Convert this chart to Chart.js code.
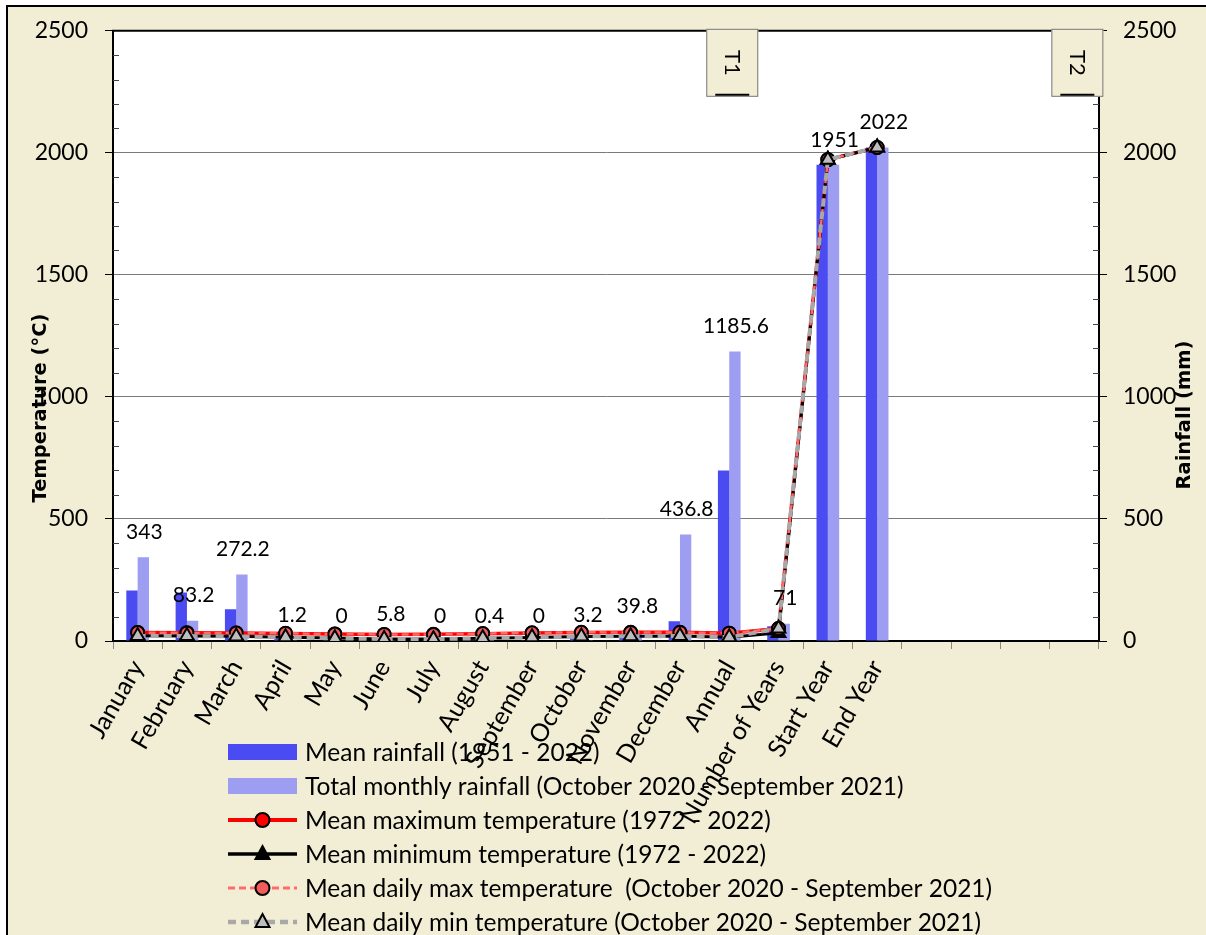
<!DOCTYPE html>
<html>
<head>
<meta charset="utf-8">
<script src="https://cdn.jsdelivr.net/npm/chart.js@4.4.1/dist/chart.umd.min.js"></script>
<style>
  html, body { margin: 0; padding: 0; background: #fff; }
  canvas { display: block; }
</style>
</head>
<body>
<canvas id="chart" width="1206" height="935"></canvas>
<script>
// categories along the x axis (last four slots are empty in the original sheet)
const categories = ["January", "February", "March", "April", "May", "June", "July", "August",
  "September", "October", "November", "December", "Annual", "Number of Years", "Start Year", "End Year",
  "", "", "", ""]

// rainfall bars
const meanRainfall = [207, 199, 130, 10, 3, 1, 0.5, 1, 3, 10, 30, 81, 699, 60, 1951, 2022, null, null, null, null]
const totalRainfall = [343, 83.2, 272.2, 1.2, 0, 5.8, 0, 0.4, 0, 3.2, 39.8, 436.8, 1185.6, 71, 1951, 2022, null, null, null, null]

// temperature lines
const meanMaxTemp = [35.2, 34.1, 33.0, 31.2, 29.0, 27.1, 27.4, 29.8, 32.6, 34.8, 35.6, 35.5, 32.1, 51, 1972, 2022, null, null, null, null]
const meanMinTemp = [21.0, 20.6, 19.1, 15.8, 11.9, 8.7, 8.3, 10.9, 14.8, 18.2, 19.9, 20.8, 15.8, 33, 1972, 2022, null, null, null, null]
const dailyMaxTemp = [34.6, 33.2, 32.5, 31.8, 28.4, 26.6, 26.2, 30.5, 33.4, 35.6, 34.9, 35.1, 31.9, 51, 1972, 2022, null, null, null, null]
const dailyMinTemp = [20.2, 20.1, 18.6, 14.9, 10.8, 8.1, 7.4, 11.6, 15.2, 18.9, 19.4, 20.3, 15.5, 51, 1972, 2022, null, null, null, null]

const legendLabels = [
  "Mean rainfall (1951 - 2022)",
  "Total monthly rainfall (October 2020 - September 2021)",
  "Mean maximum temperature (1972 - 2022)",
  "Mean minimum temperature (1972 - 2022)",
  "Mean daily max temperature  (October 2020 - September 2021)",
  "Mean daily min temperature (October 2020 - September 2021)"
]

const BEIGE = "#f2eed5"
const FONT = "Lato"

// background, outer frame and white plot area
const backgroundPlugin = {
  id: "background",
  beforeDraw(chart) {
    const { ctx, chartArea: a, width, height } = chart
    ctx.save()
    ctx.fillStyle = "#fff"
    ctx.fillRect(0, 0, width, height)
    ctx.fillStyle = BEIGE
    ctx.fillRect(8, 7, width, height)
    ctx.strokeStyle = "#000"
    ctx.lineWidth = 2
    ctx.strokeRect(7, 6, width + 20, height + 20)
    ctx.fillStyle = "#fff"
    ctx.fillRect(a.left, a.top, a.right - a.left, a.bottom - a.top)
    ctx.restore()
  }
}

// minor ticks inside the plot, top border, axis titles, T1/T2 boxes, data labels, legend
const decorPlugin = {
  id: "decor",
  afterDraw(chart) {
    const { ctx, chartArea: a } = chart
    const yScale = chart.scales.y
    const xScale = chart.scales.x
    ctx.save()

    // minor ticks every 100
    ctx.strokeStyle = "#444"
    ctx.lineWidth = 1
    for (let v = 100; v < 2500; v += 100) {
      if (v % 500 === 0) continue
      const y = Math.round(yScale.getPixelForValue(v)) + 0.5
      ctx.beginPath()
      ctx.moveTo(a.left, y); ctx.lineTo(a.left + 6, y)
      ctx.moveTo(a.right - 6, y); ctx.lineTo(a.right, y)
      ctx.stroke()
    }

    // top border of plot area
    ctx.strokeStyle = "#000"
    ctx.lineWidth = 2
    ctx.beginPath()
    ctx.moveTo(a.left - 1, a.top)
    ctx.lineTo(a.right + 1, a.top)
    ctx.stroke()

    // axis titles
    ctx.fillStyle = "#000"
    ctx.font = "bold 19.5px 'DejaVu Sans'"
    ctx.textAlign = "center"
    ctx.textBaseline = "middle"
    ctx.save()
    ctx.translate(41, 408)
    ctx.rotate(-Math.PI / 2)
    ctx.fillText("Temperature (°C)", 0, 0)
    ctx.restore()
    ctx.save()
    ctx.translate(1185, 415)
    ctx.rotate(-Math.PI / 2)
    ctx.fillText("Rainfall (mm)", 0, 0)
    ctx.restore()

    // T1 / T2 text boxes
    const boxes = [["T1", 12], ["T2", 19]]
    boxes.forEach(([txt, idx]) => {
      const cx = xScale.getPixelForValue(idx) + 3
      const top = a.top - 2
      ctx.fillStyle = BEIGE
      ctx.fillRect(cx - 26, top, 52, 68)
      ctx.strokeStyle = "#777"
      ctx.lineWidth = 1
      ctx.strokeRect(cx - 25.5, top + 0.5, 51, 67)
      ctx.strokeStyle = "#000"
      ctx.lineWidth = 2
      ctx.beginPath()
      ctx.moveTo(cx - 17, top + 66)
      ctx.lineTo(cx + 17, top + 66)
      ctx.stroke()
      ctx.save()
      ctx.translate(cx, top + 34)
      ctx.rotate(Math.PI / 2)
      ctx.fillStyle = "#000"
      ctx.font = `22px ${FONT}`
      ctx.textAlign = "center"
      ctx.textBaseline = "middle"
      ctx.fillText(txt, 0, 0)
      ctx.restore()
    })

    // data labels over total monthly rainfall bars
    const meta = chart.getDatasetMeta(1)
    ctx.fillStyle = "#000"
    ctx.font = `21px ${FONT}`
    ctx.textAlign = "center"
    ctx.textBaseline = "middle"
    meta.data.forEach((bar, i) => {
      const v = totalRainfall[i]
      if (v === null) return
      ctx.fillText(String(v), bar.x + 1, bar.y - 25)
    })

    // legend
    const lx = 228, ly = 752, row = 34, sw = 69
    chart.data.datasets.forEach((ds, i) => {
      const y = ly + i * row
      if (ds.type === "bar") {
        ctx.fillStyle = ds.backgroundColor
        ctx.fillRect(lx, y - 8, sw, 16)
      } else {
        ctx.strokeStyle = ds.borderColor
        ctx.lineWidth = ds.borderWidth + 0.5
        ctx.setLineDash(ds.borderDash || [])
        ctx.beginPath()
        ctx.moveTo(lx, y)
        ctx.lineTo(lx + sw, y)
        ctx.stroke()
        ctx.setLineDash([])
        ctx.fillStyle = ds.pointBackgroundColor
        ctx.strokeStyle = ds.pointBorderColor
        ctx.lineWidth = 2
        ctx.beginPath()
        const mx = lx + sw / 2
        if (ds.pointStyle === "circle") {
          ctx.arc(mx, y, 7, 0, Math.PI * 2)
        } else {
          ctx.moveTo(mx, y - 8)
          ctx.lineTo(mx + 7, y + 5)
          ctx.lineTo(mx - 7, y + 5)
          ctx.closePath()
        }
        ctx.fill()
        ctx.stroke()
      }
      ctx.fillStyle = "#000"
      ctx.font = `24.5px ${FONT}`
      ctx.textAlign = "left"
      ctx.textBaseline = "middle"
      ctx.fillText(legendLabels[i], 305, y + 1)
    })

    ctx.restore()
  }
}

const lineBase = { type: "line", yAxisID: "y", fill: false, tension: 0, spanGaps: false, pointBorderColor: "#000", pointBorderWidth: 2 }
const plainTick = v => String(v)

const ctx = document.getElementById("chart").getContext("2d")
new Chart(ctx, {
  type: "bar",
  data: {
    labels: categories,
    datasets: [
      { type: "bar", label: legendLabels[0], data: meanRainfall, backgroundColor: "#4b4bf2", yAxisID: "y", order: 5 },
      { type: "bar", label: legendLabels[1], data: totalRainfall, backgroundColor: "#9d9df2", yAxisID: "y", order: 6 },
      { ...lineBase, label: legendLabels[2], data: meanMaxTemp, borderColor: "#ff0000", borderWidth: 3.5,
        pointStyle: "circle", pointRadius: 6.5, pointBackgroundColor: "#ff0000", order: 4 },
      { ...lineBase, label: legendLabels[3], data: meanMinTemp, borderColor: "#000", borderWidth: 3,
        pointStyle: "triangle", pointRadius: 8, pointBackgroundColor: "#000", order: 3 },
      { ...lineBase, label: legendLabels[4], data: dailyMaxTemp, borderColor: "#ff6a6a", borderWidth: 2.5, borderDash: [7, 4],
        pointStyle: "circle", pointRadius: 6.5, pointBackgroundColor: "#f25c5c", order: 2 },
      { ...lineBase, label: legendLabels[5], data: dailyMinTemp, borderColor: "#a8a8a8", borderWidth: 4, borderDash: [8, 5],
        pointStyle: "triangle", pointRadius: 8, pointBackgroundColor: "#bdbdbd", order: 1 }
    ]
  },
  options: {
    responsive: false,
    animation: false,
    devicePixelRatio: 1,
    layout: { padding: { left: 10, top: 27, right: 0, bottom: 0 } },
    datasets: { bar: { categoryPercentage: 0.46, barPercentage: 1 } },
    plugins: { legend: { display: false }, tooltip: { enabled: false } },
    scales: {
      x: {
        afterFit: s => { s.height = 294 },
        grid: { drawOnChartArea: false, offset: true, tickLength: 8, color: "#888" },
        border: { color: "#000", width: 2 },
        ticks: { autoSkip: false, minRotation: 60, maxRotation: 60, padding: 6, color: "#000", font: { family: FONT, size: 25 } }
      },
      y: {
        position: "left",
        min: 0, max: 2500,
        afterFit: s => { s.width = 103 },
        grid: { color: c => (c.tick.value === 0 ? "transparent" : "#7a7a7a"), tickLength: 8, tickColor: "#000" },
        border: { color: "#000", width: 2 },
        ticks: { stepSize: 500, padding: 17, color: "#000", callback: plainTick, font: { family: FONT, size: 23 } }
      },
      y2: {
        position: "right",
        min: 0, max: 2500,
        afterFit: s => { s.width = 107 },
        grid: { drawOnChartArea: false, tickLength: 8, tickColor: "#000" },
        border: { color: "#000", width: 2 },
        ticks: { stepSize: 500, padding: 16, color: "#000", callback: plainTick, font: { family: FONT, size: 23 } }
      }
    }
  },
  plugins: [backgroundPlugin, decorPlugin]
})
</script>
</body>
</html>
